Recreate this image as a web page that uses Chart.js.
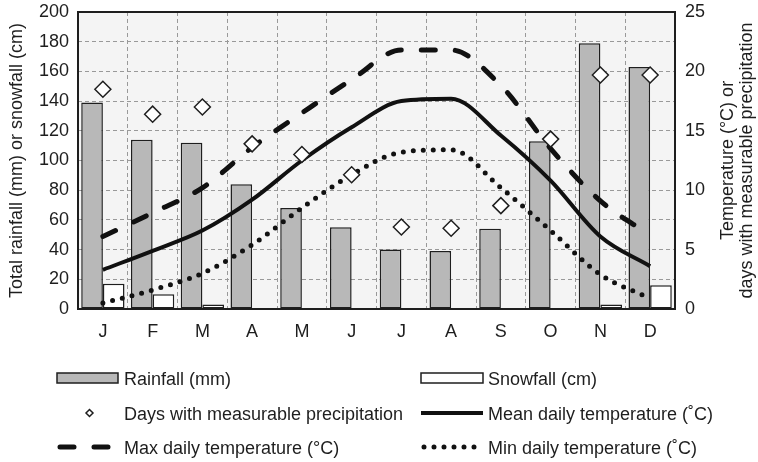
<!DOCTYPE html>
<html>
<head>
<meta charset="utf-8">
<script src="https://cdn.jsdelivr.net/npm/chart.js@4.4.1/dist/chart.umd.min.js"></script>
<style>
  html, body { margin: 0; padding: 0; background: #fff; }
  #climate { display: block; }
</style>
</head>
<body>
<canvas id="climate" width="758" height="462"></canvas>
<script>
const months = ['J', 'F', 'M', 'A', 'M', 'J', 'J', 'A', 'S', 'O', 'N', 'D'];
const rainfall = [139, 114, 112, 84, 68, 55, 40, 39, 54, 113, 179, 163];
const snowfall = [17, 10, 3, 0.7, 0, 0, 0, 0, 0, 0.7, 3, 16];
const precipDays = [18.5, 16.4, 17.0, 13.9, 13.0, 11.3, 6.9, 6.8, 8.7, 14.3, 19.7, 19.7];
const meanTemp = [3.3, 4.9, 6.6, 9.2, 12.5, 15.3, 17.5, 17.7, 14.6, 10.8, 6.1, 3.6];
const maxTemp = [6.1, 8.1, 10.2, 13.6, 16.5, 19.3, 21.8, 21.8, 18.8, 13.5, 9.1, 6.2];
const minTemp = [0.5, 1.6, 3.0, 5.4, 8.5, 11.3, 13.2, 13.4, 10.2, 6.6, 2.9, 0.9];

const leftTitle = 'Total rainfall (mm) or snowfall (cm)';
const rightTitle = ['Temperature (\u00b0C) or', 'days with measurable precipitation'];

const FONT = '"Liberation Sans", Arial, sans-serif';
const FONT_SIZE = 18;
const INK = '#1e1e1e';

// legend grid: [dataset index, column, row]
const legendSlots = [[4, 0, 0], [5, 1, 0], [0, 0, 1], [1, 1, 1], [2, 0, 2], [3, 1, 2]];
const legendCols = [{ from: 57, to: 118, text: 124 }, { from: 421, to: 483, text: 488 }];
const legendRows = [378, 413, 447];

function drawDiamond(ctx, x, y, r) {
    ctx.beginPath();
    ctx.moveTo(x, y - r);
    ctx.lineTo(x + r, y);
    ctx.lineTo(x, y + r);
    ctx.lineTo(x - r, y);
    ctx.closePath();
    ctx.fill();
    ctx.stroke();
}

function drawSwatch(ctx, ds, x0, x1, y) {
    ctx.save();
    if (ds.type === 'bar') {
        ctx.fillStyle = ds.backgroundColor;
        ctx.strokeStyle = ds.borderColor;
        ctx.lineWidth = ds.borderWidth;
        ctx.fillRect(x0, y - 5, x1 - x0, 10);
        ctx.strokeRect(x0, y - 5, x1 - x0, 10);
    } else if (ds.showLine === false) {
        ctx.fillStyle = ds.pointBackgroundColor;
        ctx.strokeStyle = ds.pointBorderColor;
        ctx.lineWidth = 1.5;
        drawDiamond(ctx, (x0 + x1) / 2 + 2, y, 3.5);
    } else {
        ctx.strokeStyle = ds.borderColor;
        ctx.lineWidth = ds.borderWidth;
        ctx.lineCap = ds.borderCapStyle || 'butt';
        ctx.setLineDash(ds.borderDash || []);
        ctx.beginPath();
        ctx.moveTo(x0 + (ds.borderDash ? 3 : 0), y);
        ctx.lineTo(x1 - (ds.borderDash ? 3 : 0), y);
        ctx.stroke();
    }
    ctx.restore();
}

const climateDecor = {
    id: 'climateDecor',
    beforeDraw(chart) {
        const { ctx, chartArea: a } = chart;
        ctx.save();
        ctx.fillStyle = '#fff';
        ctx.fillRect(0, 0, chart.width, chart.height);
        ctx.fillStyle = '#f4f4f4';
        ctx.fillRect(a.left, a.top, a.right - a.left, a.bottom - a.top);
        ctx.restore();
    },
    beforeDatasetsDraw(chart) {
        const { ctx, chartArea: a } = chart;
        ctx.save();
        ctx.strokeStyle = INK;
        ctx.lineWidth = 2;
        ctx.strokeRect(a.left, a.top, a.right - a.left, a.bottom - a.top);
        ctx.restore();
    },
    afterDraw(chart) {
        const { ctx, chartArea: a } = chart;
        const midY = (a.top + a.bottom) / 2;
        ctx.save();
        ctx.fillStyle = INK;
        ctx.font = FONT_SIZE + 'px ' + FONT;
        ctx.textAlign = 'center';
        ctx.textBaseline = 'middle';

        // axis titles, both reading bottom to top
        ctx.save();
        ctx.translate(17, midY);
        ctx.rotate(-Math.PI / 2);
        ctx.fillText(leftTitle, 0, 0);
        ctx.restore();
        rightTitle.forEach((line, i) => {
            ctx.save();
            ctx.translate(728 + i * 19, midY);
            ctx.rotate(-Math.PI / 2);
            ctx.fillText(line, 0, 0);
            ctx.restore();
        });

        // legend
        ctx.textAlign = 'left';
        legendSlots.forEach(([idx, col, row]) => {
            const ds = chart.data.datasets[idx];
            const c = legendCols[col];
            const y = legendRows[row];
            drawSwatch(ctx, ds, c.from, c.to, y);
            ctx.fillStyle = INK;
            ctx.fillText(ds.label, c.text, y + 2);
        });
        ctx.restore();
    }
};

const tickFont = { family: FONT, size: FONT_SIZE };

// keep the plot box fixed regardless of label overflow
function fixVertical(width) {
    return function (scale) {
        scale.width = width;
        scale.paddingTop = 0;
        scale.paddingBottom = 0;
    };
}

const ctx = document.getElementById('climate').getContext('2d');
const climateChart = new Chart(ctx, {
    type: 'bar',
    data: {
        labels: months,
        datasets: [
            {
                type: 'line',
                label: 'Days with measurable precipitation',
                data: precipDays,
                yAxisID: 'y1',
                showLine: false,
                pointStyle: 'rectRot',
                pointRadius: 8,
                pointBorderWidth: 1.5,
                pointBackgroundColor: '#ffffff',
                pointBorderColor: INK
            },
            {
                type: 'line',
                label: 'Mean daily temperature (\u02daC)',
                data: meanTemp,
                yAxisID: 'y1',
                borderColor: '#111',
                borderWidth: 4,
                cubicInterpolationMode: 'monotone',
                pointRadius: 0
            },
            {
                type: 'line',
                label: 'Max daily temperature (\u00b0C)',
                data: maxTemp,
                yAxisID: 'y1',
                borderColor: '#111',
                borderWidth: 5,
                borderDash: [14, 20],
                borderCapStyle: 'round',
                cubicInterpolationMode: 'monotone',
                pointRadius: 0
            },
            {
                type: 'line',
                label: 'Min daily temperature (\u02daC)',
                data: minTemp,
                yAxisID: 'y1',
                borderColor: '#111',
                borderWidth: 5,
                borderDash: [0, 10],
                borderCapStyle: 'round',
                cubicInterpolationMode: 'monotone',
                pointRadius: 0
            },
            {
                type: 'bar',
                label: 'Rainfall (mm)',
                data: rainfall,
                yAxisID: 'y',
                backgroundColor: '#b8b8b8',
                borderColor: INK,
                borderWidth: 1.5,
                borderSkipped: false,
                categoryPercentage: 0.87,
                barPercentage: 1.0
            },
            {
                type: 'bar',
                label: 'Snowfall (cm)',
                data: snowfall,
                yAxisID: 'y',
                backgroundColor: '#ffffff',
                borderColor: INK,
                borderWidth: 1.5,
                borderSkipped: false,
                categoryPercentage: 0.87,
                barPercentage: 1.0
            }
        ]
    },
    options: {
        responsive: false,
        animation: false,
        devicePixelRatio: 1,
        layout: { padding: { top: 12, left: 0, right: 0, bottom: 0 } },
        plugins: {
            legend: { display: false },
            tooltip: { enabled: false }
        },
        scales: {
            x: {
                offset: true,
                grid: {
                    offset: true,
                    color: '#999',
                    lineWidth: 1,
                    drawTicks: false
                },
                border: { display: false, dash: [4, 3] },
                ticks: { color: INK, font: tickFont, padding: 12 },
                afterFit(scale) {
                    scale.height = 153;
                    scale.paddingLeft = 0;
                    scale.paddingRight = 0;
                }
            },
            y: {
                position: 'left',
                min: 0,
                max: 200,
                ticks: { stepSize: 20, color: INK, font: tickFont, padding: 9 },
                grid: { color: '#999', lineWidth: 1, drawTicks: false },
                border: { display: false, dash: [4, 3] },
                afterFit: fixVertical(78)
            },
            y1: {
                position: 'right',
                min: 0,
                max: 25,
                ticks: { stepSize: 5, color: INK, font: tickFont, padding: 10 },
                grid: { display: false, drawTicks: false },
                border: { display: false },
                afterFit: fixVertical(83)
            }
        }
    },
    plugins: [climateDecor]
});
</script>
</body>
</html>
